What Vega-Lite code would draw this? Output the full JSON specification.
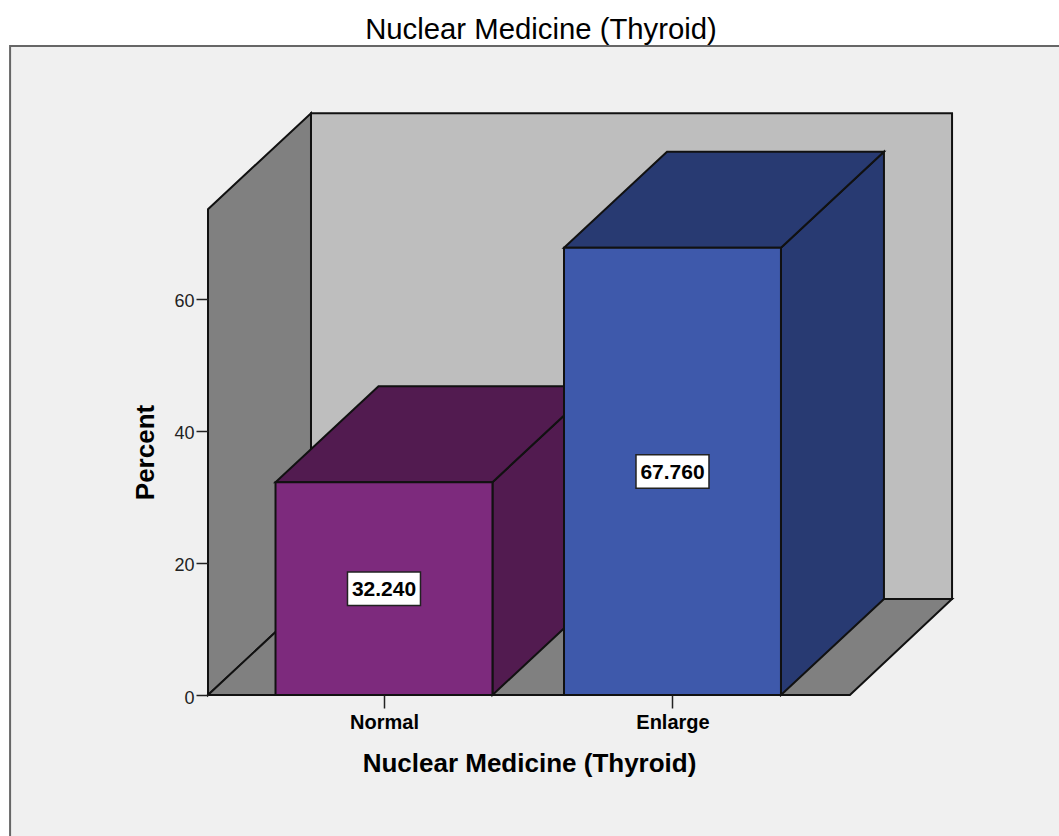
{
"$schema":"https://vega.github.io/schema/vega-lite/v6.json",
"width":642,"height":582,
"autosize":{"type":"none"},
"padding":{"left":208,"top":113,"right":209,"bottom":141},
"background":"#ffffff",
"view":{"stroke":null,"fill":null},
"title":{"text":"Nuclear Medicine (Thyroid)","font":"Liberation Sans","fontSize":29.3,"fontWeight":"normal","color":"#000000","anchor":"middle","dx":12,"offset":-23,"baseline":"alphabetic"},
"datasets":{
"panel":[{"x":-0.296,"x2":5,"y":98.33,"y2":-40}],
"faces":[
{"face":"Left wall","x":0.39,"y":0,"y2":73.6},
{"face":"Left wall","x":0.747,"y":14.55,"y2":88.15},
{"face":"Back wall","x":0.747,"y":14.55,"y2":88.15},
{"face":"Back wall","x":2.969,"y":14.55,"y2":88.15},
{"face":"Floor","x":0.39,"y":0,"y2":0},
{"face":"Floor","x":0.747,"y":0,"y2":14.55},
{"face":"Floor","x":2.615,"y":0,"y2":14.55},
{"face":"Floor","x":2.969,"y":14.55,"y2":14.55},
{"face":"Normal side","x":1.376,"y":0,"y2":32.24},
{"face":"Normal side","x":1.733,"y":14.55,"y2":46.79},
{"face":"Normal top","x":0.624,"y":32.24,"y2":32.24},
{"face":"Normal top","x":0.981,"y":32.24,"y2":46.79},
{"face":"Normal top","x":1.376,"y":32.24,"y2":46.79},
{"face":"Normal top","x":1.733,"y":46.79,"y2":46.79},
{"face":"Normal front","x":0.624,"y":0,"y2":32.24},
{"face":"Normal front","x":1.376,"y":0,"y2":32.24},
{"face":"Enlarge side","x":2.376,"y":0,"y2":67.76},
{"face":"Enlarge side","x":2.733,"y":14.55,"y2":82.31},
{"face":"Enlarge top","x":1.624,"y":67.76,"y2":67.76},
{"face":"Enlarge top","x":1.981,"y":67.76,"y2":82.31},
{"face":"Enlarge top","x":2.376,"y":67.76,"y2":82.31},
{"face":"Enlarge top","x":2.733,"y":82.31,"y2":82.31},
{"face":"Enlarge front","x":1.624,"y":0,"y2":67.76},
{"face":"Enlarge front","x":2.376,"y":0,"y2":67.76}
],
"labels":[
{"category":"Normal","x":1,"y":16.12,"xl":0.8735,"xh":1.1265,"yl":13.55,"yh":18.65,"label":"32.240"},
{"category":"Enlarge","x":2,"y":33.88,"xl":1.8735,"xh":2.1265,"yl":31.31,"yh":36.41,"label":"67.760"}
]
},
"encoding":{
"x":{"field":"x","type":"quantitative","scale":{"domain":[0.39,2.6153],"nice":false,"zero":false},
"axis":{"zindex":1,"values":[1,2],"labelExpr":"datum.value==1?'Normal':'Enlarge'","grid":false,"domain":false,"ticks":true,"tickSize":13,"tickWidth":1.5,"tickColor":"#222222","labelFont":"Liberation Sans","labelFontSize":20,"labelFontWeight":"bold","labelColor":"#000000","labelPadding":4,"labelFlush":false,"title":"Nuclear Medicine (Thyroid)","titleFont":"Liberation Sans","titleFontSize":26,"titleFontWeight":"bold","titleColor":"#000000","titleBaseline":"middle","titleY":68}},
"y":{"field":"y","type":"quantitative","scale":{"domain":[0,88.18],"nice":false,"zero":false},
"axis":{"zindex":1,"values":[0,20,40,60],"grid":false,"domain":false,"ticks":true,"tickSize":12,"tickWidth":1.5,"tickColor":"#222222","labelFont":"Liberation Sans","labelFontSize":18,"labelColor":"#222222","labelPadding":2,"labelOffset":3,"title":"Percent","titleFont":"Liberation Sans","titleFontSize":26,"titleFontWeight":"bold","titleColor":"#000000","titleBaseline":"middle","titleX":-63,"titleY":339}}
},
"layer":[
{"data":{"name":"panel"},"mark":{"type":"rect","fill":"#f0f0f0","stroke":"#666666","strokeWidth":2},"encoding":{"x2":{"field":"x2"},"y2":{"field":"y2"}}},
{"data":{"name":"faces"},"mark":{"type":"area","stroke":"#111111","strokeWidth":2,"strokeJoin":"miter","opacity":1},
 "encoding":{"y2":{"field":"y2"},"detail":{"field":"face"},
 "color":{"field":"face","type":"nominal","legend":null,"sort":null,"scale":{
  "domain":["Left wall","Back wall","Floor","Normal side","Normal top","Normal front","Enlarge side","Enlarge top","Enlarge front"],
  "range":["#808080","#bebebe","#808080","#521b50","#521b50","#7d2a7d","#283a72","#283a72","#3e59ab"]}}}},
{"data":{"name":"labels"},"mark":{"type":"rect","fill":"#ffffff","stroke":"#222222","strokeWidth":1.5},"encoding":{"x":{"field":"xl","type":"quantitative"},"x2":{"field":"xh"},"y":{"field":"yl","type":"quantitative"},"y2":{"field":"yh"}}},
{"data":{"name":"labels"},"mark":{"type":"text","font":"Liberation Sans","fontSize":21,"fontWeight":"bold","color":"#000000","align":"center","baseline":"middle","dy":1.5},"encoding":{"text":{"field":"label"}}}
]
}
